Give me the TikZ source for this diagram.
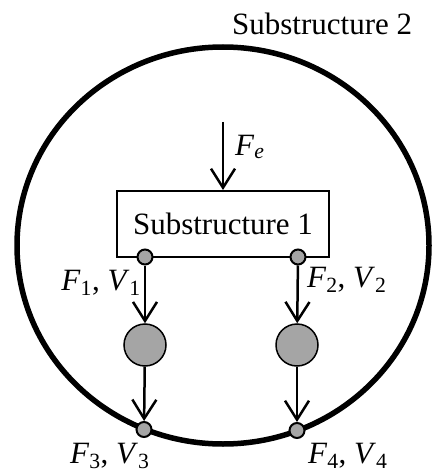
\documentclass[tikz,border=0pt]{standalone}
\usepackage{fontspec}
\setmainfont{Liberation Serif}
\usetikzlibrary{arrows.meta}
\tikzset{
  lbl/.style={inner sep=0pt, font=\fontsize{31}{36}\selectfont},
  joint/.style={circle, draw=black, line width=2pt, fill=jointgray, minimum size=15pt, inner sep=0pt},
  mass/.style={circle, draw=black, line width=1.5pt, fill=jointgray, minimum size=42pt, inner sep=0pt},
  flow/.style={line width=2.5pt, -{Straight Barb[length=19pt,width=24pt,line width=2.5pt]}},
  subbox/.style={draw=black, line width=2pt, minimum width=212pt, minimum height=66pt, inner sep=0pt, font=\fontsize{31}{36}\selectfont}
}
\definecolor{jointgray}{RGB}{165,165,165}
\newcommand{\fv}[2]{\textit{F}\textsubscript{#1}, \textit{V}\textsubscript{#2}}
\begin{document}
\begin{tikzpicture}[x=1pt,y=-1pt]
\useasboundingbox[fill=white] (0,0) rectangle (436,473);
% outer substructure
\draw[line width=5.5pt] (223,245.5) ellipse [x radius=206pt, y radius=198.5pt];
\node[lbl, anchor=base west] (s2) at (232,35) {Substructure 2};
% substructure 1
\node[subbox] (s1) at (223,224) {Substructure 1};
\coordinate (fe) at (223,122);
\draw[flow] (fe) -- (s1.north);
\node[lbl, anchor=base west] (felbl) at (235,155) {\textit{F}\textsubscript{\textit{e}}};
% masses
\node[mass] (m1) at (145,345) {};
\node[mass] (m2) at (297,345) {};
% joints on box
\node[joint] (p1) at (145,257) {};
\node[joint] (p2) at (298,257) {};
% joints on ellipse
\node[joint] (p3) at (144,429.5) {};
\node[joint] (p4) at (297,430.5) {};
% arrows
\draw[flow] (p1) -- (m1);
\draw[flow] (p2) -- (m2);
\draw[flow] (m1) -- (p3);
\draw[flow] (m2) -- (p4);
% labels
\node[lbl, anchor=base east] (l1) at (141,290) {\fv{1}{1}};
\node[lbl, anchor=base west] (l2) at (307,287) {\fv{2}{2}};
\node[lbl, anchor=base west] (l3) at (70,463) {\fv{3}{3}};
\node[lbl, anchor=base west] (l4) at (308,463) {\fv{4}{4}};
\end{tikzpicture}
\end{document}
